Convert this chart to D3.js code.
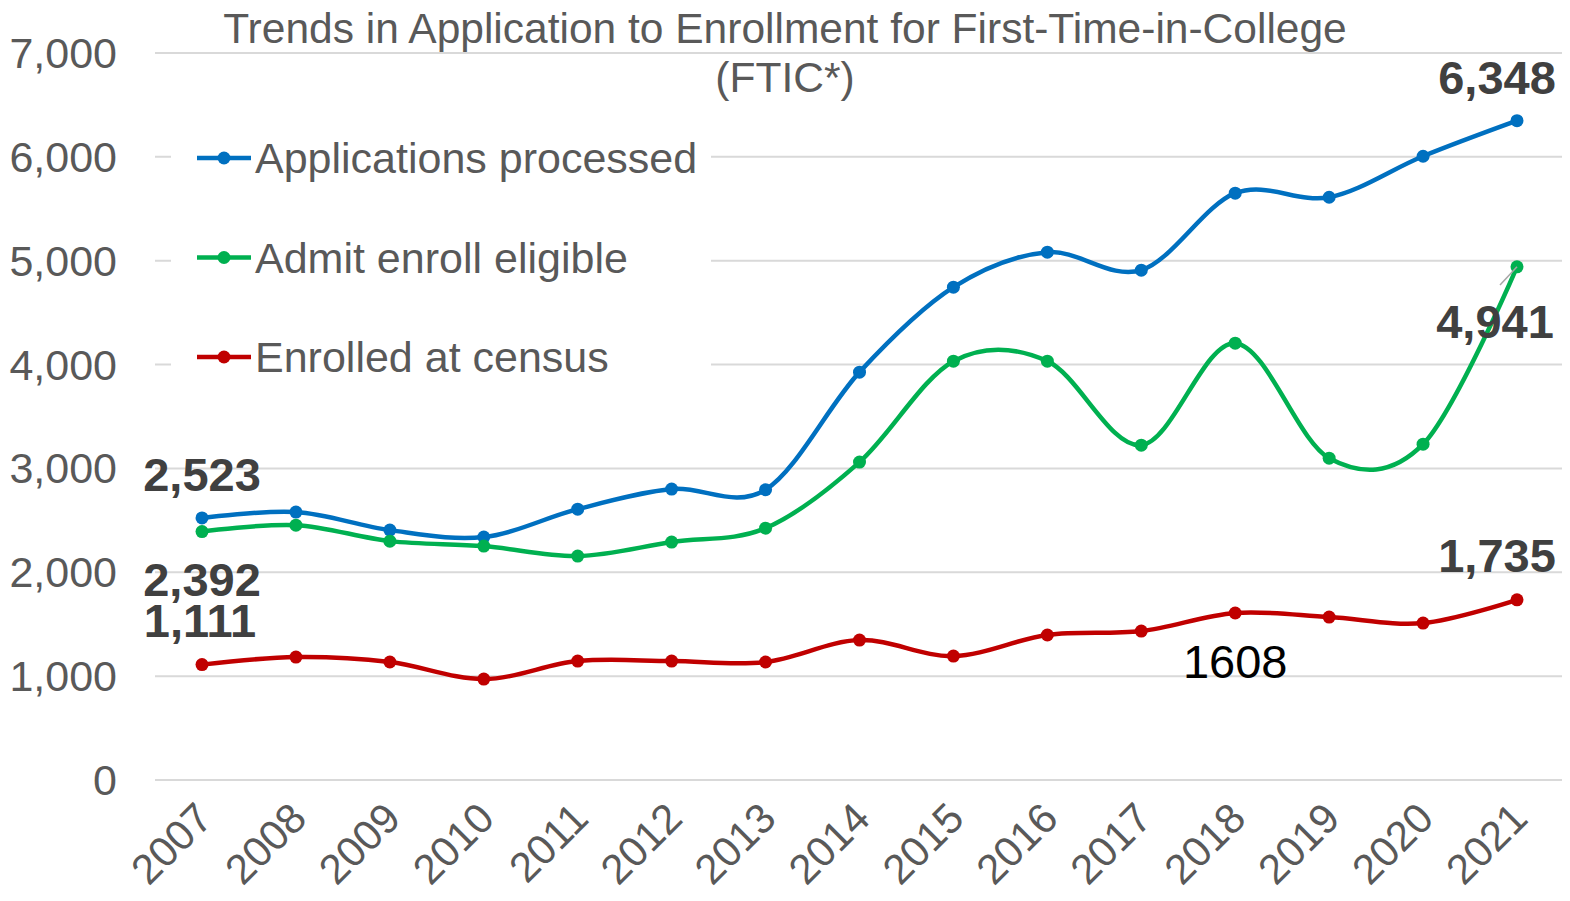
<!DOCTYPE html>
<html>
<head>
<meta charset="utf-8">
<script src="https://cdn.jsdelivr.net/npm/d3@7"></script>
<style>
  body { margin: 0; background: #fff; }
  text { font-family: "Liberation Sans", Arial, sans-serif; }
</style>
</head>
<body>
<div id="chart"></div>
<script>
// chart data
const years = ['2007', '2008', '2009', '2010', '2011', '2012', '2013', '2014',
  '2015', '2016', '2017', '2018', '2019', '2020', '2021'];
const applications = [2523, 2580, 2406, 2339, 2608, 2801, 2795, 3927, 4745, 5082, 4909, 5650, 5611, 6006, 6348];
const admitEligible = [2392, 2454, 2300, 2252, 2156, 2291, 2425, 3061, 4033, 4033, 3224, 4206, 3099, 3234, 4941];
const enrolled = [1111, 1184, 1136, 972, 1145, 1145, 1136, 1347, 1193, 1396, 1434, 1608, 1569, 1511, 1735];
const yTicks = [0, 1000, 2000, 3000, 4000, 5000, 6000, 7000];
const seriesNames = ['Applications processed', 'Admit enroll eligible', 'Enrolled at census'];

const width = 1570, height = 901;
const margin = { top: 53, right: 8, bottom: 121, left: 155 };

const series = [
  { name: seriesNames[0], values: applications, color: '#0070c0' },
  { name: seriesNames[1], values: admitEligible, color: '#00b050' },
  { name: seriesNames[2], values: enrolled, color: '#c00000' }
];

const svg = d3.select('#chart').append('svg')
  .attr('width', width)
  .attr('height', height);

const x_scale = d3.scalePoint()
  .domain(years)
  .range([202, 1517]);
const y_scale = d3.scaleLinear()
  .domain([0, 7000])
  .range([height - margin.bottom, margin.top]);

// gridlines + y labels
svg.append('g')
  .selectAll('line')
  .data(yTicks)
  .enter().append('line')
  .attr('x1', margin.left)
  .attr('x2', width - margin.right)
  .attr('y1', d => y_scale(d))
  .attr('y2', d => y_scale(d))
  .attr('stroke', '#d9d9d9')
  .attr('stroke-width', 2);

svg.append('g')
  .selectAll('text')
  .data(yTicks)
  .enter().append('text')
  .attr('x', 117)
  .attr('y', d => y_scale(d))
  .attr('dy', '0.35em')
  .attr('text-anchor', 'end')
  .attr('font-size', 43)
  .attr('fill', '#595959')
  .text(d => d3.format(',')(d));

// x labels, rotated
svg.append('g')
  .selectAll('text')
  .data(years)
  .enter().append('text')
  .attr('transform', d => 'translate(' + (x_scale(d) - 8) + ',' + 800 + ') rotate(-45)')
  .attr('text-anchor', 'end')
  .attr('dy', '0.7em')
  .attr('font-size', 42)
  .attr('fill', '#595959')
  .text(d => d);

// title
svg.append('text')
  .attr('x', 785).attr('y', 43)
  .attr('text-anchor', 'middle')
  .attr('font-size', 42.5)
  .attr('fill', '#595959')
  .text('Trends in Application to Enrollment for First-Time-in-College');
svg.append('text')
  .attr('x', 785).attr('y', 92)
  .attr('text-anchor', 'middle')
  .attr('font-size', 42.5)
  .attr('fill', '#595959')
  .text('(FTIC*)');

// legend (white box covers gridlines)
const legend = svg.append('g');
legend.append('rect')
  .attr('x', 171).attr('y', 110)
  .attr('width', 540).attr('height', 285)
  .attr('fill', '#fff');
series.forEach((s, i) => {
  const ly = 158 + i * 99.5;
  legend.append('line')
    .attr('x1', 197).attr('x2', 251)
    .attr('y1', ly).attr('y2', ly)
    .attr('stroke', s.color).attr('stroke-width', 4.5);
  legend.append('circle')
    .attr('cx', 224).attr('cy', ly).attr('r', 6.5)
    .attr('fill', s.color);
  legend.append('text')
    .attr('x', 255).attr('y', ly)
    .attr('dy', '0.35em')
    .attr('font-size', 43)
    .attr('fill', '#595959')
    .text(s.name);
});

const line = d3.line()
  .x((d, i) => x_scale(years[i]))
  .y(d => y_scale(d))
  .curve(d3.curveCardinal.tension(0));

series.forEach(s => {
  svg.append('path')
    .datum(s.values)
    .attr('d', line)
    .attr('fill', 'none')
    .attr('stroke', s.color)
    .attr('stroke-width', 4.5);
  svg.append('g')
    .selectAll('circle')
    .data(s.values)
    .enter().append('circle')
    .attr('r', 6.5)
    .attr('fill', s.color)
    .attr('cx', (d, i) => x_scale(years[i]))
    .attr('cy', d => y_scale(d));
});

// data labels
const fmt = d3.format(',');
const last = years.length - 1;
const labels = [
  { v: applications[0], x: x_scale(years[0]), y: 475, bold: true },
  { v: admitEligible[0], x: x_scale(years[0]), y: 580, bold: true },
  { v: enrolled[0], x: x_scale(years[0]) - 2, y: 621, bold: true },
  { v: applications[last], x: x_scale(years[last]) - 20, y: 78, bold: true },
  { v: admitEligible[last], x: x_scale(years[last]) - 22, y: 322, bold: true },
  { v: enrolled[last], x: x_scale(years[last]) - 20, y: 556, bold: true },
  { v: enrolled[11], x: x_scale(years[11]), y: 662, bold: false, plain: true }
];

// leader line for 4,941
svg.append('line')
  .attr('x1', 1500).attr('y1', 285)
  .attr('x2', x_scale(years[last])).attr('y2', y_scale(admitEligible[last]))
  .attr('stroke', '#a6a6a6').attr('stroke-width', 1.5);

svg.append('g')
  .selectAll('text')
  .data(labels)
  .enter().append('text')
  .attr('x', d => d.x)
  .attr('y', d => d.y)
  .attr('dy', '0.35em')
  .attr('text-anchor', 'middle')
  .attr('font-size', 47)
  .attr('font-weight', d => d.bold ? 'bold' : 'normal')
  .attr('fill', d => d.bold ? '#404040' : '#000')
  .text(d => d.plain ? String(d.v) : fmt(d.v));
</script>
</body>
</html>
